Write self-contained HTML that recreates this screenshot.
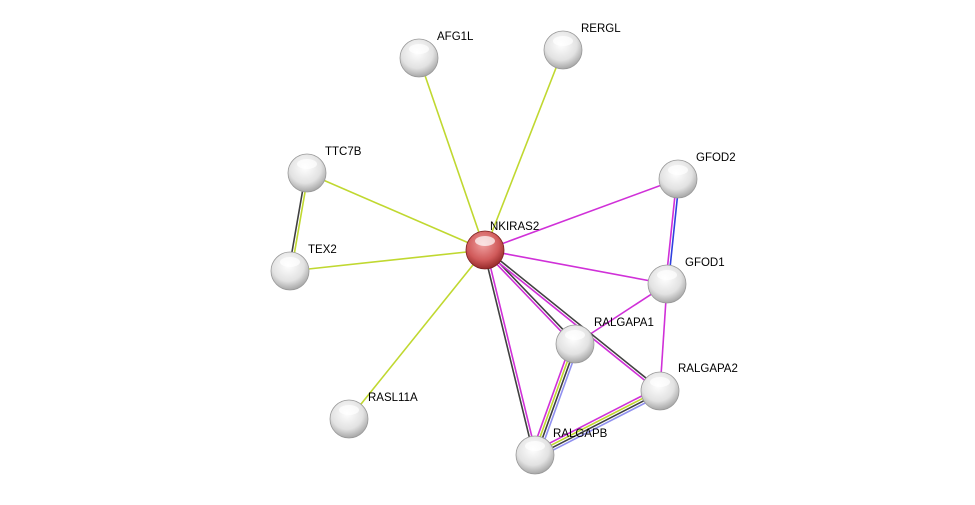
<!DOCTYPE html>
<html><head><meta charset="utf-8"><style>
body{margin:0;background:#fff;width:975px;height:500px;overflow:hidden}
text{font-family:"Liberation Sans",sans-serif;font-size:11.5px;fill:#000}
</style></head><body>
<svg id="s" width="975" height="500" xmlns="http://www.w3.org/2000/svg">
<defs>
<radialGradient id="g" cx="0.45" cy="0.35" r="0.7">
<stop offset="0" stop-color="#ffffff"/><stop offset="0.6" stop-color="#e2e2e2"/><stop offset="1" stop-color="#9a9a9a"/></radialGradient>
<radialGradient id="r" cx="0.45" cy="0.35" r="0.7">
<stop offset="0" stop-color="#f0a0a0"/><stop offset="0.6" stop-color="#d05a5a"/><stop offset="1" stop-color="#8a2020"/></radialGradient>
</defs>
<g id="e"></g><g id="n"></g>
</svg>
<script>
var N={NK:[485,250],AFG1L:[419,58],RERGL:[563,50],TTC7B:[307,173],TEX2:[290,271],GFOD2:[678,179],GFOD1:[667,284],RALGAPA1:[575,344],RALGAPA2:[660,391],RALGAPB:[535,455],RASL11A:[349,419]};
var C={y:"#c0d830",k:"#404040",m:"#d030d8",b:"#3040e0",lb:"#9090f0"};
var E=[["NK","AFG1L","y"],["NK","RERGL","y"],["NK","TTC7B","y"],["NK","TEX2","y"],["NK","RASL11A","y"],["TTC7B","TEX2","yk"],["NK","GFOD2","m"],["NK","GFOD1","m"],["GFOD2","GFOD1","bm"],["GFOD1","RALGAPA1","m"],["GFOD1","RALGAPA2","m"],["NK","RALGAPA1","km"],["NK","RALGAPA2","km"],["NK","RALGAPB","mk"],["RALGAPA1","RALGAPB","Lkym"],["RALGAPA2","RALGAPB","Lkym"]];
var eg=document.getElementById("e"),h="";
E.forEach(function(e){var a=N[e[0]],b=N[e[1]],cs=e[2].split(""),dx=b[0]-a[0],dy=b[1]-a[1],l=Math.hypot(dx,dy),px=-dy/l,py=dx/l,k=cs.length;
cs.forEach(function(c,i){var o=(i-(k-1)/2)*2.6;var col=c=="L"?C.lb:C[c];h+='<line x1="'+(a[0]+px*o)+'" y1="'+(a[1]+py*o)+'" x2="'+(b[0]+px*o)+'" y2="'+(b[1]+py*o)+'" stroke="'+col+'" stroke-width="1.6"/>';});});
eg.innerHTML=h;
var L={NK:["NKIRAS2",490,230],AFG1L:["AFG1L",437,40],RERGL:["RERGL",581,32],TTC7B:["TTC7B",325,155],TEX2:["TEX2",308,253],GFOD2:["GFOD2",696,161],GFOD1:["GFOD1",685,266],RALGAPA1:["RALGAPA1",594,326],RALGAPA2:["RALGAPA2",678,372],RALGAPB:["RALGAPB",553,437],RASL11A:["RASL11A",368,401]};
h="";for(var k in N){var p=N[k];h+='<circle cx="'+p[0]+'" cy="'+p[1]+'" r="19" fill="url(#'+(k=="NK"?"r":"g")+')" stroke="'+(k=="NK"?"#7a2020":"#999")+'" stroke-width="0.8"/>';h+='<ellipse cx="'+p[0]+'" cy="'+(p[1]-9)+'" rx="10" ry="5" fill="#fff" opacity="0.7"/>';var t=L[k];h+='<text x="'+t[1]+'" y="'+t[2]+'">'+t[0]+'</text>';}
document.getElementById("n").innerHTML=h;
</script>
</body></html>
